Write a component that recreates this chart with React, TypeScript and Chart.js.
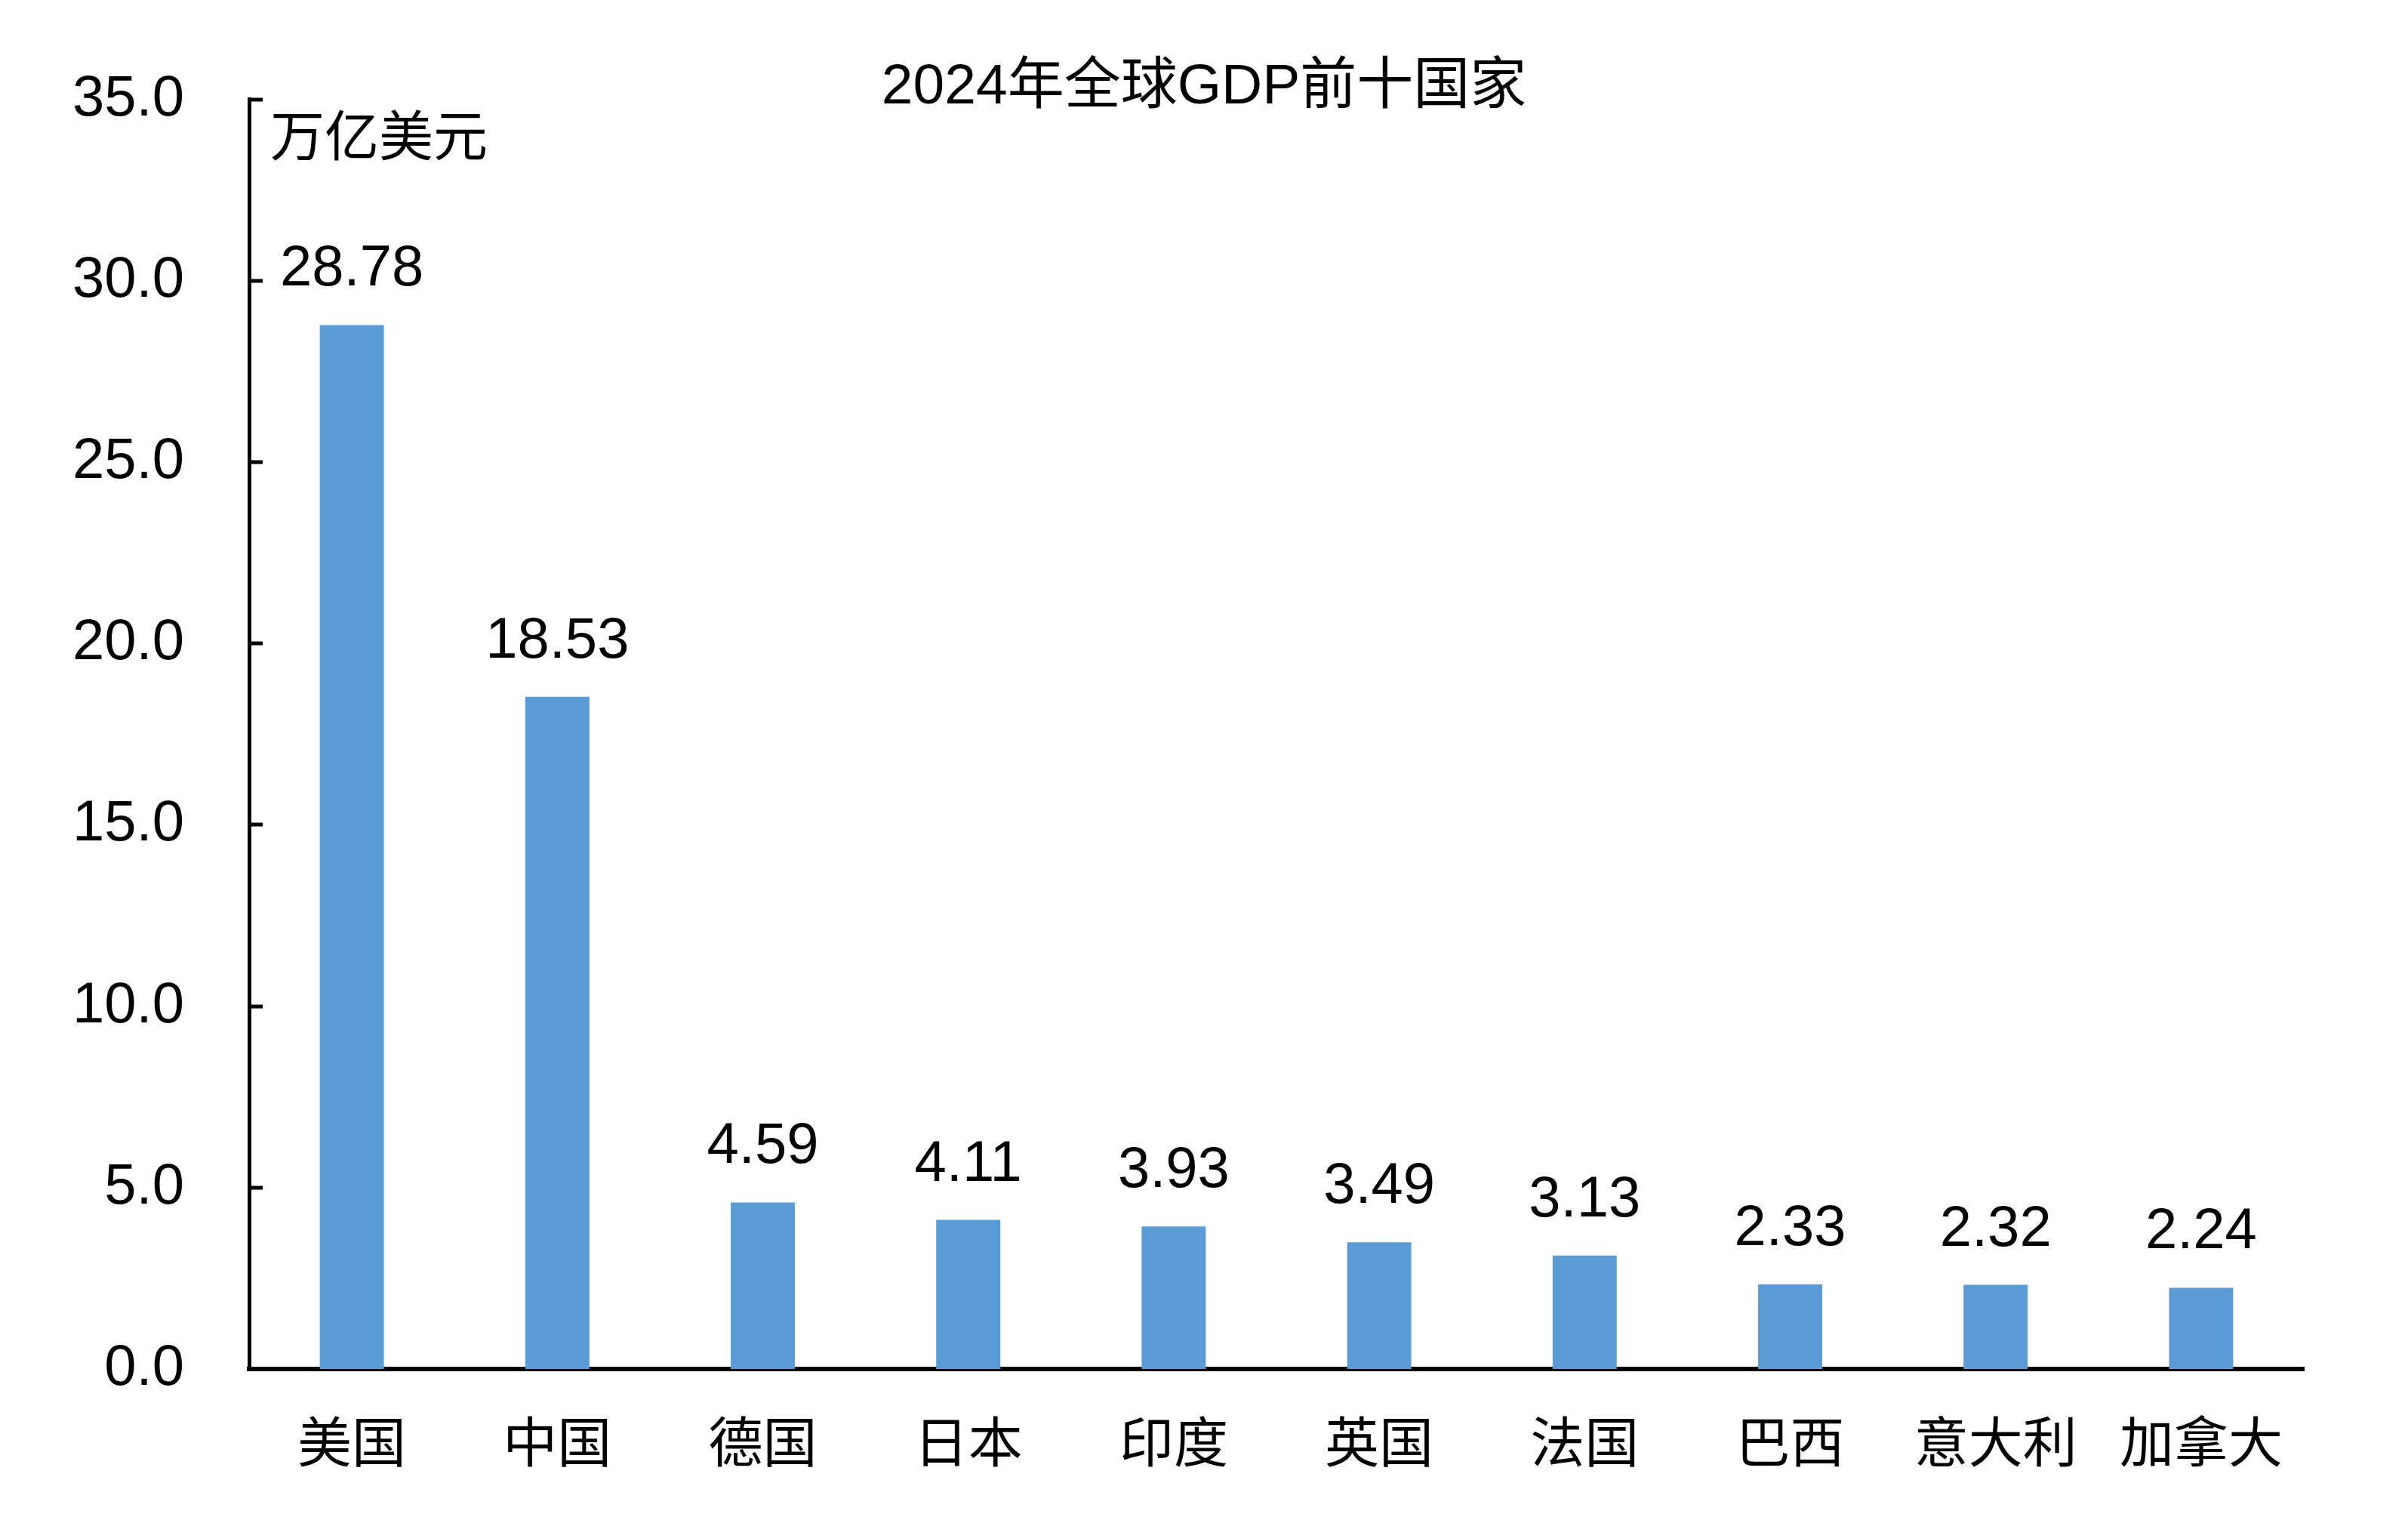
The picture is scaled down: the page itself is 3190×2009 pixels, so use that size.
import React, { useEffect, useRef } from "react";
import { Chart, registerables } from "chart.js";

Chart.register(...registerables);

const categories = ["美国", "中国", "德国", "日本", "印度", "英国", "法国", "巴西", "意大利", "加拿大"];
const gdpValues = [28.78, 18.53, 4.59, 4.11, 3.93, 3.49, 3.13, 2.33, 2.32, 2.24];
const chartTitle = "2024年全球GDP前十国家";
const unitLabel = "万亿美元";
const yMin = 0;
const yMax = 35;
const yStep = 5;

const W = 3190;
const H = 2009;
const LATIN = "'Liberation Sans', Arial, 'Noto Sans CJK SC', sans-serif";
const CJK = "'Noto Sans CJK SC', 'Liberation Sans', sans-serif";

const overlayPlugin = {
  id: "overlay",
  afterDatasetsDraw(chart: any) {
    const ctx = chart.ctx;
    const y = chart.scales.y;
    const area = chart.chartArea;
    ctx.save();
    // inward tick marks on y-axis
    ctx.strokeStyle = "#000";
    ctx.lineWidth = 5;
    y.ticks.forEach((t: any) => {
      if (t.value === 0) return;
      const py = Math.round(y.getPixelForValue(t.value));
      ctx.beginPath();
      ctx.moveTo(area.left, py);
      ctx.lineTo(area.left + 18, py);
      ctx.stroke();
    });
    // data labels
    ctx.fillStyle = "#000";
    ctx.font = "76px " + LATIN;
    ctx.textAlign = "center";
    ctx.textBaseline = "alphabetic";
    const meta = chart.getDatasetMeta(0);
    meta.data.forEach((bar: any, i: number) => {
      ctx.fillText(gdpValues[i].toFixed(2), bar.x, bar.y - 52);
    });
    // title
    ctx.font = "75px " + LATIN;
    ctx.textBaseline = "middle";
    ctx.textAlign = "center";
    ctx.fillText(chartTitle, W / 2, 116);
    // unit label
    ctx.font = "72px " + CJK;
    ctx.textAlign = "left";
    ctx.fillText(unitLabel, area.left + 28, 179);
    ctx.restore();
  },
};

export default function App() {
  const ref = useRef<HTMLCanvasElement | null>(null);
  useEffect(() => {
    document.body.style.margin = "0";
    const canvas = ref.current;
    if (!canvas) return;
    const chart = new Chart(canvas, {
      type: "bar",
      data: {
        labels: categories,
        datasets: [
          {
            data: gdpValues,
            backgroundColor: "#5B9BD5",
            borderWidth: 0,
            barPercentage: 0.312,
            categoryPercentage: 1,
          },
        ],
      },
      options: {
        animation: false,
        responsive: false,
        devicePixelRatio: 1,
        layout: { padding: { top: 130, right: 138, bottom: 0, left: 0 } },
        plugins: { legend: { display: false }, title: { display: false }, tooltip: { enabled: false } },
        scales: {
          x: {
            grid: { display: false, drawTicks: false },
            border: { display: true, color: "#000", width: 6 },
            ticks: {
              color: "#000",
              font: { family: CJK, size: 72 },
              padding: 52,
              maxRotation: 0,
              autoSkip: false,
            },
            afterFit(scale: any) {
              scale.height = 196;
            },
          },
          y: {
            min: yMin,
            max: yMax,
            grid: { display: false, drawTicks: false },
            border: { display: true, color: "#000", width: 5 },
            ticks: {
              stepSize: yStep,
              color: "#000",
              font: { family: LATIN, size: 76 },
              padding: 86,
              callback: (v: any) => Number(v).toFixed(1),
            },
            afterFit(scale: any) {
              scale.width = 330;
            },
          },
        },
      },
      plugins: [overlayPlugin],
    });
    return () => chart.destroy();
  }, []);
  return (
    <div style={{ width: W, height: H, background: "#fff" }}>
      <canvas ref={ref} width={W} height={H} style={{ display: "block", width: W, height: H }} />
    </div>
  );
}
